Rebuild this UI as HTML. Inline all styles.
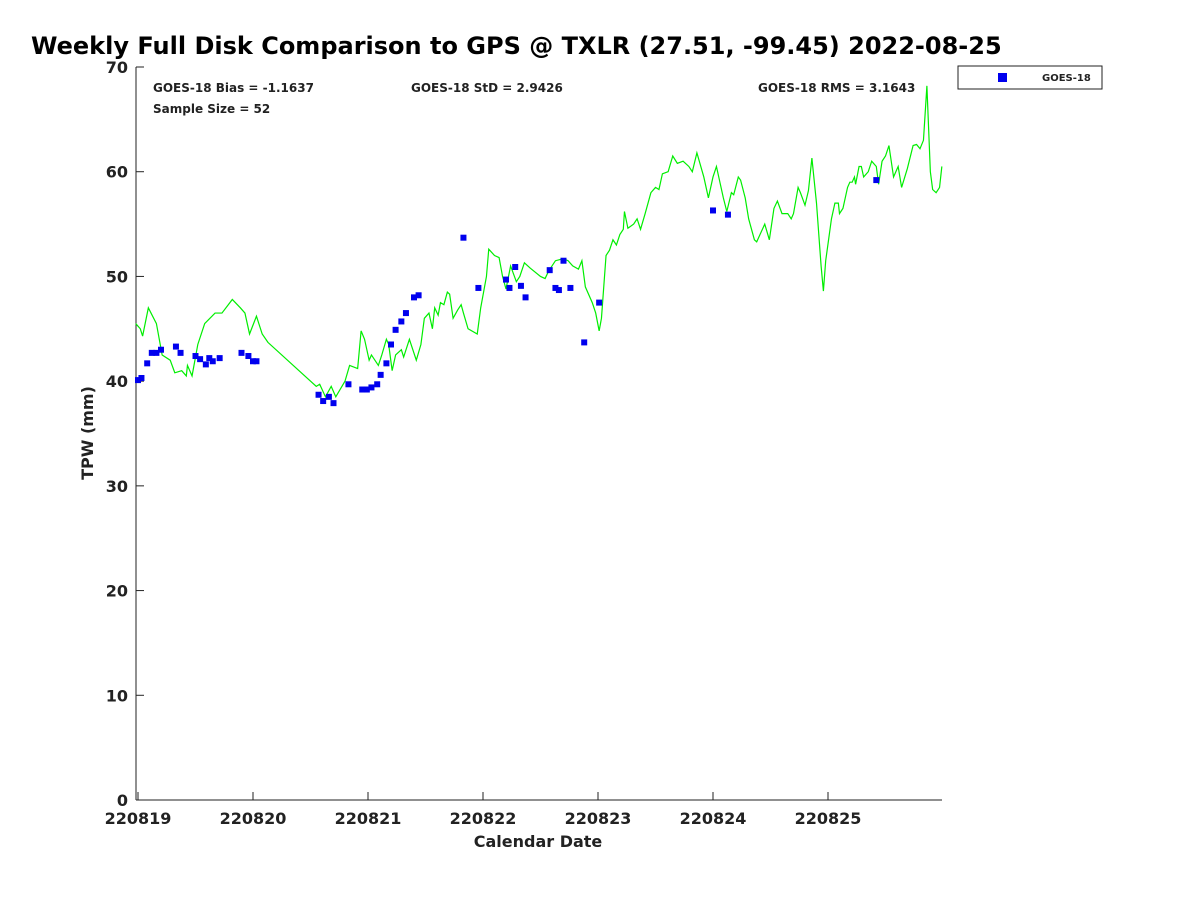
<!DOCTYPE html>
<html><head><meta charset="utf-8"><style>
body{margin:0;background:#fff;width:1200px;height:900px;overflow:hidden}
svg text{font-family:"DejaVu Sans","Liberation Sans",sans-serif;font-weight:bold;fill:#222}
</style></head><body>
<svg id="chart" width="1200" height="900" xmlns="http://www.w3.org/2000/svg">
<text x="31" y="54" font-size="24" style="fill:#000">Weekly Full Disk Comparison to GPS @ TXLR (27.51, -99.45) 2022-08-25</text>
<g id="axes"></g>
<text x="153" y="92" font-size="12">GOES-18 Bias = -1.1637</text>
<text x="153" y="113" font-size="12">Sample Size = 52</text>
<text x="411" y="92" font-size="12">GOES-18 StD = 2.9426</text>
<text x="758" y="92" font-size="12">GOES-18 RMS = 3.1643</text>
<g>
<rect x="958" y="66" width="144" height="23" fill="#fff" stroke="#222" stroke-width="1"/>
<rect x="998" y="73" width="9" height="9" fill="#0000ee"/>
<text x="1042" y="81" font-size="10">GOES-18</text>
</g>
<text x="538" y="847" font-size="16" text-anchor="middle">Calendar Date</text>
<text transform="translate(93,433) rotate(-90)" font-size="16" text-anchor="middle">TPW (mm)</text>
</svg>
<script>
const xTickLabels=["220819","220820","220821","220822","220823","220824","220825"];
const yTicks=[0,10,20,30,40,50,60,70];
const gpsDays=[-0.02,0.02,0.04,0.09,0.16,0.21,0.28,0.32,0.38,0.42,0.43,0.47,0.52,0.58,0.67,0.73,0.82,0.89,0.93,0.97,1.03,1.08,1.13,1.55,1.58,1.63,1.68,1.72,1.80,1.84,1.91,1.94,1.97,2.01,2.03,2.09,2.12,2.16,2.18,2.21,2.24,2.29,2.31,2.36,2.42,2.46,2.49,2.53,2.56,2.58,2.61,2.63,2.66,2.69,2.71,2.74,2.78,2.81,2.83,2.87,2.95,2.98,3.03,3.05,3.10,3.14,3.17,3.20,3.24,3.29,3.32,3.36,3.41,3.50,3.54,3.57,3.63,3.70,3.74,3.78,3.83,3.86,3.89,3.95,3.98,4.01,4.03,4.07,4.10,4.13,4.16,4.19,4.22,4.23,4.26,4.31,4.34,4.37,4.41,4.46,4.50,4.53,4.56,4.61,4.65,4.69,4.74,4.79,4.82,4.86,4.92,4.96,5.00,5.03,5.09,5.12,5.16,5.18,5.22,5.24,5.28,5.31,5.36,5.38,5.45,5.49,5.53,5.56,5.60,5.65,5.68,5.70,5.74,5.76,5.80,5.83,5.86,5.90,5.94,5.96,5.98,6.03,6.06,6.09,6.10,6.13,6.17,6.19,6.21,6.23,6.24,6.27,6.29,6.31,6.35,6.38,6.42,6.44,6.47,6.50,6.53,6.57,6.61,6.64,6.69,6.74,6.77,6.80,6.83,6.86,6.89,6.91,6.94,6.97,6.99];
const gpsTpw=[45.5,45,44.3,47,45.5,42.5,42,40.8,41,40.5,41.5,40.5,43.5,45.5,46.5,46.5,47.8,47,46.5,44.5,46.2,44.5,43.7,39.5,39.7,38.5,39.5,38.5,40,41.5,41.2,44.8,44,42,42.5,41.5,42.5,44,43.5,41,42.5,43,42.3,44,42,43.5,46,46.5,45,47,46.3,47.5,47.3,48.5,48.3,46,46.8,47.3,46.5,45,44.5,47,50,52.6,52,51.8,50,48.8,51,49.5,50,51.3,50.8,50,49.8,50.5,51.5,51.7,51.5,51,50.7,51.5,49,47.5,46.5,44.8,46,52,52.5,53.5,53,54,54.5,56.2,54.6,55,55.5,54.5,56,58,58.5,58.3,59.8,60,61.5,60.8,61,60.5,60,61.8,59.5,57.5,59.5,60.5,57.5,56.2,58,57.8,59.5,59.2,57.5,55.5,53.5,53.3,55,53.5,56.5,57.2,56,56,55.5,56,58.5,58,56.8,58.2,61.3,57,51,48.6,51.5,55.5,57,57,56,56.5,58.5,59,59,59.5,58.8,60.5,60.5,59.5,60,61,60.5,58.8,61,61.5,62.5,59.5,60.5,58.5,60.3,62.5,62.6,62.2,63,68.2,60,58.3,58,58.5,60.5];
const goesDays=[0,0.03,0.08,0.12,0.16,0.2,0.33,0.37,0.5,0.54,0.59,0.62,0.65,0.71,0.9,0.96,1.0,1.03,1.57,1.61,1.66,1.70,1.83,1.95,1.99,2.03,2.08,2.11,2.16,2.2,2.24,2.29,2.33,2.4,2.44,2.83,2.96,3.2,3.23,3.28,3.33,3.37,3.58,3.63,3.66,3.70,3.76,3.88,4.01,5.0,5.13,6.42];
const goesTpw=[40.1,40.3,41.7,42.7,42.7,43.0,43.3,42.7,42.4,42.1,41.6,42.2,41.9,42.2,42.7,42.4,41.9,41.9,38.7,38.1,38.5,37.9,39.7,39.2,39.2,39.4,39.7,40.6,41.7,43.5,44.9,45.7,46.5,48.0,48.2,53.7,48.9,49.7,48.9,50.9,49.1,48.0,50.6,48.9,48.7,51.5,48.9,43.7,47.5,56.3,55.9,59.2];
const NS="http://www.w3.org/2000/svg";
const svg=document.getElementById('chart');
const axes=document.getElementById('axes');
const X=d=>138+d*115, Y=v=>800-v*733/70;
function el(t,a,p){const e=document.createElementNS(NS,t);for(const k in a)e.setAttribute(k,a[k]);(p||svg).appendChild(e);return e;}
el('line',{x1:136,y1:67,x2:136,y2:800,stroke:'#222'},axes);
el('line',{x1:136,y1:800,x2:942,y2:800,stroke:'#222'},axes);
el('line',{x1:136,y1:67,x2:144,y2:67,stroke:'#222'},axes);
yTicks.forEach(v=>{
 const t=el('text',{x:128,y:Y(v)+6,'font-size':16,'text-anchor':'end'},axes);t.textContent=v;
 
 
 el('line',{x1:136,y1:Y(v),x2:144,y2:Y(v),stroke:'#222'},axes);
});
xTickLabels.forEach((s,i)=>{
 const t=el('text',{x:X(i),y:824,'font-size':16,'text-anchor':'middle'},axes);t.textContent=s;
 
 
 el('line',{x1:X(i),y1:800,x2:X(i),y2:792,stroke:'#222'},axes);
});
const line=el('polyline',{points:gpsDays.map((d,i)=>X(d)+','+Y(gpsTpw[i])).join(' '),fill:'none',stroke:'#00ee00','stroke-width':1.2});


goesDays.forEach((d,i)=>{
 const r=el('rect',{x:X(d)-3,y:Y(goesTpw[i])-3,width:6,height:6,fill:'#0000ee'});
 
 
});
</script>
</body></html>
